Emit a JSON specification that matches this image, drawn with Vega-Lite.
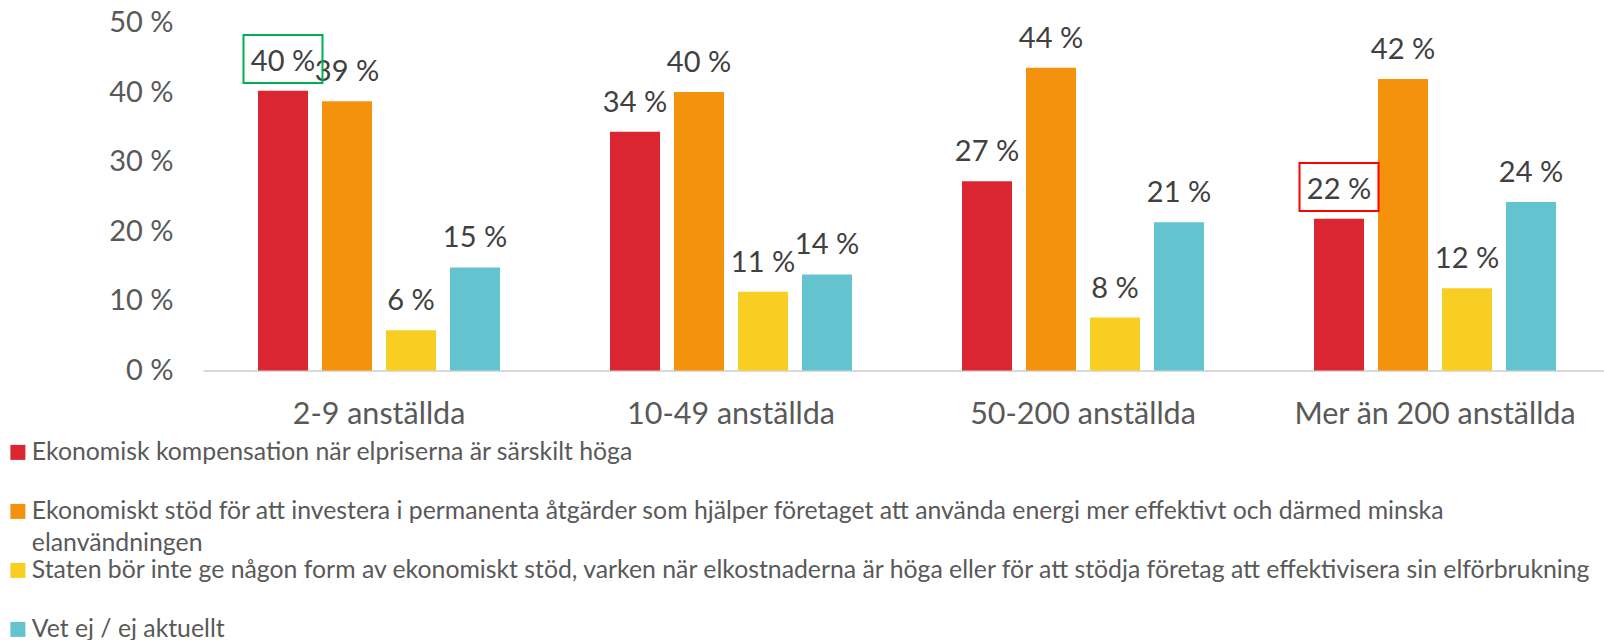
{
  "$schema": "https://vega.github.io/schema/vega-lite/v6.json",
  "autosize": {"type": "none"},
  "padding": {"left": 203, "top": 22.5, "right": 0, "bottom": 269.5},
  "width": 1401,
  "height": 348,
  "background": "white",
  "config": {
    "font": "Lato",
    "view": {"stroke": null}
  },
  "data": {
    "values": [
      {"group": "2-9 anställda", "series": "Ekonomisk kompensation när elpriserna är särskilt höga", "value": 40.2},
      {"group": "2-9 anställda", "series": "Ekonomiskt stöd för att investera i permanenta åtgärder som hjälper företaget att använda energi mer effektivt och därmed minska elanvändningen", "value": 38.7},
      {"group": "2-9 anställda", "series": "Staten bör inte ge någon form av ekonomiskt stöd, varken när elkostnaderna är höga eller för att stödja företag att effektivisera sin elförbrukning", "value": 5.8},
      {"group": "2-9 anställda", "series": "Vet ej / ej aktuellt", "value": 14.8},
      {"group": "10-49 anställda", "series": "Ekonomisk kompensation när elpriserna är särskilt höga", "value": 34.3},
      {"group": "10-49 anställda", "series": "Ekonomiskt stöd för att investera i permanenta åtgärder som hjälper företaget att använda energi mer effektivt och därmed minska elanvändningen", "value": 40.0},
      {"group": "10-49 anställda", "series": "Staten bör inte ge någon form av ekonomiskt stöd, varken när elkostnaderna är höga eller för att stödja företag att effektivisera sin elförbrukning", "value": 11.3},
      {"group": "10-49 anställda", "series": "Vet ej / ej aktuellt", "value": 13.8},
      {"group": "50-200 anställda", "series": "Ekonomisk kompensation när elpriserna är särskilt höga", "value": 27.2},
      {"group": "50-200 anställda", "series": "Ekonomiskt stöd för att investera i permanenta åtgärder som hjälper företaget att använda energi mer effektivt och därmed minska elanvändningen", "value": 43.5},
      {"group": "50-200 anställda", "series": "Staten bör inte ge någon form av ekonomiskt stöd, varken när elkostnaderna är höga eller för att stödja företag att effektivisera sin elförbrukning", "value": 7.6},
      {"group": "50-200 anställda", "series": "Vet ej / ej aktuellt", "value": 21.3},
      {"group": "Mer än 200 anställda", "series": "Ekonomisk kompensation när elpriserna är särskilt höga", "value": 21.8},
      {"group": "Mer än 200 anställda", "series": "Ekonomiskt stöd för att investera i permanenta åtgärder som hjälper företaget att använda energi mer effektivt och därmed minska elanvändningen", "value": 41.9},
      {"group": "Mer än 200 anställda", "series": "Staten bör inte ge någon form av ekonomiskt stöd, varken när elkostnaderna är höga eller för att stödja företag att effektivisera sin elförbrukning", "value": 11.8},
      {"group": "Mer än 200 anställda", "series": "Vet ej / ej aktuellt", "value": 24.2}
    ]
  },
  "transform": [
    {"calculate": "format(datum.value, '.0f') + ' %'", "as": "label"}
  ],
  "encoding": {
    "x": {
      "field": "group", "type": "nominal", "sort": null,
      "scale": {"paddingInner": 0.3125, "paddingOuter": 0.1463, "align": 0.534},
      "axis": {
        "title": null, "labelAngle": 0, "ticks": false, "tickSize": 0,
        "labelPadding": 29, "labelFontSize": 30.5, "labelColor": "#595959", "labelLimit": 1000,
        "labelFont": "Lato", "domainColor": "#D9D9D9", "domainWidth": 2, "grid": false
      }
    },
    "xOffset": {
      "field": "series", "type": "nominal", "sort": null,
      "scale": {"paddingInner": 0.219, "paddingOuter": 0}
    },
    "y": {
      "field": "value", "type": "quantitative",
      "scale": {"domain": [0, 50], "nice": false},
      "axis": {
        "title": null, "values": [0, 10, 20, 30, 40, 50], "labelExpr": "datum.value + ' %'",
        "domain": false, "ticks": false, "tickSize": 0, "grid": false,
        "labelPadding": 30, "labelFontSize": 29, "labelColor": "#595959", "labelFont": "Lato"
      }
    }
  },
  "layer": [
    {
      "mark": {"type": "bar"},
      "encoding": {
        "color": {
          "field": "series", "type": "nominal", "sort": null,
          "scale": {
            "domain": [
              "Ekonomisk kompensation när elpriserna är särskilt höga",
              "Ekonomiskt stöd för att investera i permanenta åtgärder som hjälper företaget att använda energi mer effektivt och därmed minska elanvändningen",
              "Staten bör inte ge någon form av ekonomiskt stöd, varken när elkostnaderna är höga eller för att stödja företag att effektivisera sin elförbrukning",
              "Vet ej / ej aktuellt"
            ],
            "range": ["#DB2631", "#F4920D", "#F9CE22", "#63C3CF"]
          },
          "legend": {
            "title": null,
            "orient": "none",
            "direction": "vertical",
            "columns": 1,
            "gridAlign": "all",
            "legendX": -197.5,
            "legendY": 417.5,
            "padding": 0,
            "symbolType": "square",
            "symbolSize": 225,
            "symbolStrokeWidth": 0,
            "symbolOpacity": 1,
            "labelOffset": 1.5,
            "labelLimit": 2000,
            "labelFontSize": 24.8,
            "labelFont": "Lato",
            "labelColor": "#595959",
            "labelBaseline": "top",
            "rowPadding": 1,
            "labelExpr": "indexof(datum.label, ' elanvändningen') > 0 ? [replace(datum.label, ' elanvändningen', ''), 'elanvändningen'] : datum.label",
            "encode": {
              "labels": {"update": {"dy": {"value": -12}, "lineHeight": {"value": 32}}}
            }
          }
        }
      }
    },
    {
      "mark": {"type": "text", "baseline": "alphabetic", "dy": -20, "fontSize": 29, "color": "#404040", "font": "Lato"},
      "encoding": {"text": {"field": "label"}}
    },
    {
      "transform": [
        {"filter": "datum.group == '2-9 anställda' && indexof(datum.series, 'Ekonomisk kompensation') == 0"}
      ],
      "mark": {
        "type": "point", "filled": false, "stroke": "#00B050", "strokeWidth": 2, "opacity": 1,
        "shape": "M-1,-1.41L1,-1.41L1,-0.195L-1,-0.195Z", "size": 6241
      },
      "encoding": {}
    },
    {
      "transform": [
        {"filter": "datum.group == 'Mer än 200 anställda' && indexof(datum.series, 'Ekonomisk kompensation') == 0"}
      ],
      "mark": {
        "type": "point", "filled": false, "stroke": "#FF0000", "strokeWidth": 2, "opacity": 1,
        "shape": "M-1,-1.41L1,-1.41L1,-0.195L-1,-0.195Z", "size": 6241
      },
      "encoding": {}
    }
  ]
}
